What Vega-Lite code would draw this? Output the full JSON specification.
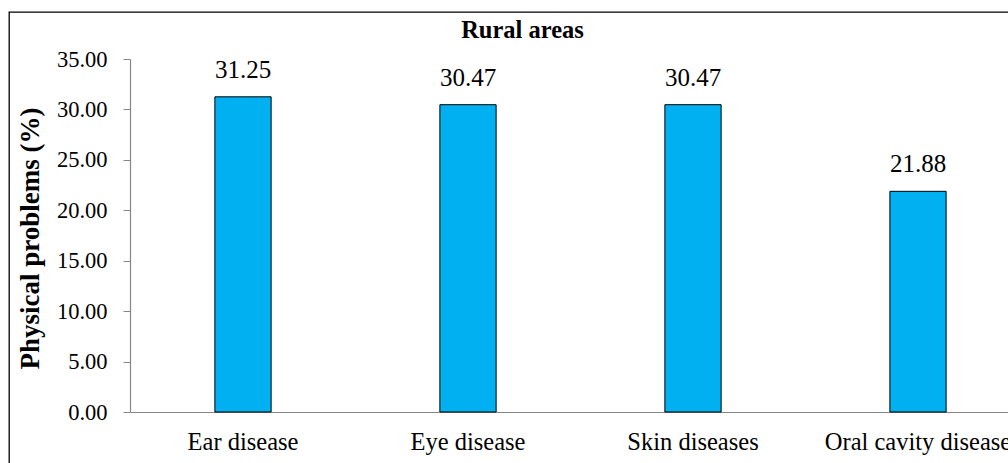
{
  "$schema": "https://vega.github.io/schema/vega-lite/v6.json",
  "autosize": {"type": "none"},
  "padding": {"left": 9, "top": 12, "right": 0, "bottom": 0},
  "width": 1001,
  "height": 452,
  "background": "white",
  "title": {
    "text": "Rural areas",
    "font": "Liberation Serif",
    "fontSize": 24.5,
    "fontWeight": "bold",
    "color": "#000000",
    "frame": "group",
    "anchor": "middle",
    "baseline": "alphabetic",
    "offset": -28,
    "dy": 22,
    "dx": 13
  },
  "data": {
    "values": [
      {"disease": "Ear disease", "percent": 31.25},
      {"disease": "Eye disease", "percent": 30.47},
      {"disease": "Skin diseases", "percent": 30.47},
      {"disease": "Oral cavity disease", "percent": 21.88}
    ]
  },
  "encoding": {
    "x": {
      "field": "disease",
      "type": "nominal",
      "sort": null,
      "scale": {"range": [121.5, 1021.5], "paddingInner": 0.75, "paddingOuter": 0.375},
      "axis": {
        "title": null,
        "offset": -52,
        "labelAngle": 0,
        "labelLimit": 0,
        "labelOverlap": false,
        "ticks": false,
        "labelPadding": 18,
        "labelFont": "Liberation Serif",
        "labelFontSize": 24.5,
        "labelColor": "#000000",
        "domainColor": "#868686",
        "domainWidth": 1.2
      }
    },
    "y": {
      "field": "percent",
      "type": "quantitative",
      "scale": {"domain": [0, 35], "range": [400, 47], "nice": false},
      "axis": {
        "title": "Physical problems (%)",
        "titleFont": "Liberation Serif",
        "titleFontSize": 27,
        "titleFontWeight": "bold",
        "titleColor": "#000000",
        "titleBaseline": "alphabetic",
        "titleX": -92,
        "titleY": 226,
        "offset": -121,
        "values": [0, 5, 10, 15, 20, 25, 30, 35],
        "format": ".2f",
        "grid": false,
        "tickSize": 7,
        "tickColor": "#868686",
        "domainColor": "#868686",
        "domainWidth": 1.2,
        "labelPadding": 16,
        "labelFont": "Liberation Serif",
        "labelFontSize": 22.5,
        "labelColor": "#000000"
      }
    }
  },
  "layer": [
    {
      "mark": {"type": "bar", "color": "#00B0F0", "stroke": "#000000", "strokeWidth": 1}
    },
    {
      "mark": {
        "type": "text",
        "font": "Liberation Serif",
        "fontSize": 25,
        "color": "#000000",
        "baseline": "alphabetic",
        "dy": -19
      },
      "encoding": {
        "text": {"field": "percent", "type": "quantitative", "format": ".2f"}
      }
    }
  ],
  "config": {
    "view": {"stroke": "#000000", "strokeWidth": 1.3}
  }
}
